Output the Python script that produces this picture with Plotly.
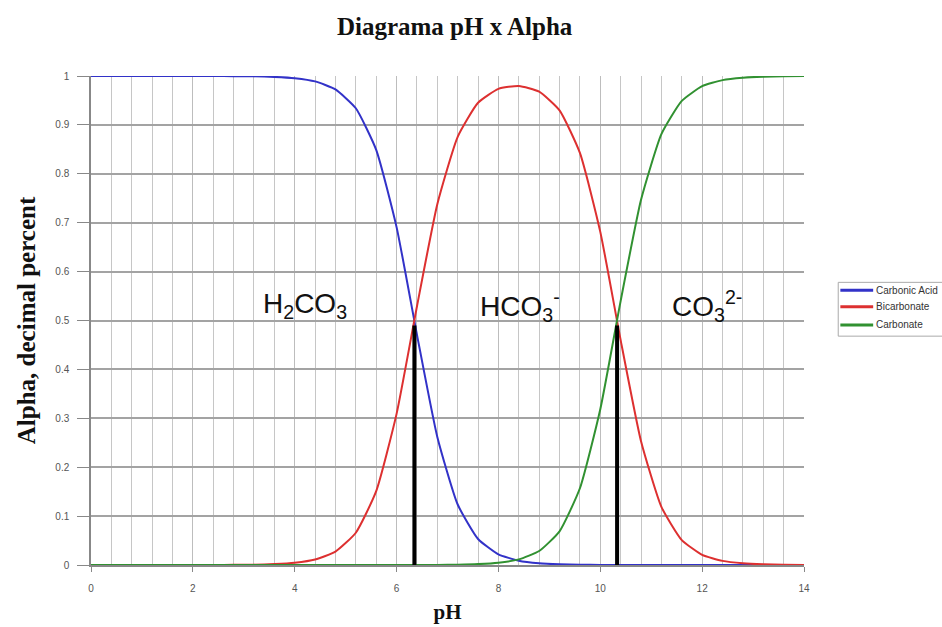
import plotly.graph_objects as go

# pH values (step 0.4, 0 .. 14)
ph = [round(i * 0.4, 1) for i in range(36)]

carbonic_acid = [1, 1, 1, 1, 1, 1, 1, 0.9997, 0.9993, 0.9982, 0.9955, 0.989, 0.9726,
                 0.934, 0.849, 0.691, 0.4712, 0.2619, 0.1237, 0.0532, 0.0218, 0.0087,
                 0.0034, 0.0013, 0.0005, 0.0002, 0, 0, 0, 0, 0, 0, 0, 0, 0, 0]
bicarbonate = [0, 0, 0, 0, 0, 0, 0, 0.0003, 0.0007, 0.0018, 0.0045, 0.0111, 0.0274,
               0.066, 0.151, 0.309, 0.5287, 0.7379, 0.8757, 0.9452, 0.9736, 0.9797,
               0.968, 0.9297, 0.8427, 0.6812, 0.4598, 0.2531, 0.1189, 0.051, 0.0209,
               0.0084, 0.0034, 0.0013, 0.0005, 0.0002]
carbonate = [0, 0, 0, 0, 0, 0, 0, 0, 0, 0, 0, 0, 0,
             0, 0, 0, 0.0001, 0.0002, 0.0007, 0.0018, 0.0046, 0.0115,
             0.0286, 0.0689, 0.1569, 0.3186, 0.5402, 0.7469, 0.8811, 0.949, 0.9791,
             0.9916, 0.9966, 0.9987, 0.9995, 0.9998]

# equivalence points (pKa) marked with black bars
pk_values = [6.35, 10.33]
pk_bottom = [0, 0]
pk_top = [0.49, 0.49]

species_labels = ["H<sub>2</sub>CO<sub>3</sub>", "HCO<sub>3</sub><sup>-</sup>", "CO<sub>3</sub><sup>2-</sup>"]
species_x = [4.2, 8.42, 12.09]
species_y = [0.53, 0.53, 0.53]

series_names = ["Carbonic Acid", "Bicarbonate", "Carbonate"]
series_colors = ["#3232c8", "#dd3030", "#319131"]

fig = go.Figure()
for name, vals, col in zip(series_names, [carbonic_acid, bicarbonate, carbonate], series_colors):
    fig.add_trace(go.Scatter(x=ph, y=vals, mode="lines", name=name, showlegend=False,
                             line=dict(color=col, width=2, shape="spline", smoothing=0.5),
                             cliponaxis=False))

for xv, y0, y1 in zip(pk_values, pk_bottom, pk_top):
    fig.add_shape(type="line", xref="x", yref="y", x0=xv, x1=xv, y0=y0, y1=y1,
                  line=dict(color="black", width=4), layer="above")

for lbl, xv, yv in zip(species_labels, species_x, species_y):
    fig.add_annotation(x=xv, y=yv, text=lbl, showarrow=False,
                       font=dict(family="Liberation Sans, Arial", size=28, color="#111"))

# hand-drawn legend box (mimics the Excel legend, partly cut off at the right edge)
leg_rows = [0.562, 0.528, 0.491]
fig.add_shape(type="rect", xref="paper", yref="paper", x0=1.048, x1=1.2, y0=0.468, y1=0.578,
              line=dict(color="#aaa", width=1), fillcolor="white", layer="above")
for name, col, yr in zip(series_names, series_colors, leg_rows):
    fig.add_shape(type="line", xref="paper", yref="paper", x0=1.051, x1=1.097, y0=yr, y1=yr,
                  line=dict(color=col, width=3), layer="above")
    fig.add_annotation(xref="paper", yref="paper", x=1.098, y=yr, xanchor="left", yanchor="middle",
                       text=name, showarrow=False,
                       font=dict(family="Liberation Sans, Arial", size=10, color="#333"))

fig.update_layout(
    width=942, height=627,
    paper_bgcolor="white", plot_bgcolor="white",
    margin=dict(l=91, r=138, t=76, b=62),
    showlegend=False,
    title=dict(text="<b>Diagrama pH x Alpha</b>", xref="paper", x=0.51, xanchor="center",
               y=0.958, yanchor="middle",
               font=dict(family="Liberation Serif, Times New Roman", size=25, color="#111")),
    xaxis=dict(range=[0, 14], dtick=2, tick0=0, showgrid=True, gridcolor="#bdbdbd", gridwidth=1,
               minor=dict(dtick=0.4, tick0=0, showgrid=True, gridcolor="#c6c6c6", gridwidth=1),
               showline=True, linecolor="#888", linewidth=1.5, ticks="outside", ticklen=5,
               tickcolor="#888", zeroline=False, ticklabelstandoff=8, automargin=False,
               tickfont=dict(family="Liberation Sans, Arial", size=10, color="#555"),
               title=dict(text="<b>pH</b>", standoff=12,
                          font=dict(family="Liberation Serif, Times New Roman", size=21, color="#111"))),
    yaxis=dict(range=[0, 1], dtick=0.1, showgrid=True, gridcolor="#a3a3a3", gridwidth=2,
               showline=True, linecolor="#888", linewidth=1.5, ticks="outside", ticklen=12,
               tickcolor="#888", zeroline=False, ticklabelstandoff=6, automargin=False,
               tickfont=dict(family="Liberation Sans, Arial", size=10, color="#555"),
               title=dict(text="<b>Alpha, decimal percent</b>", standoff=13,
                          font=dict(family="Liberation Serif, Times New Roman", size=25, color="#111"))),
)

fig.write_html("out.html")
